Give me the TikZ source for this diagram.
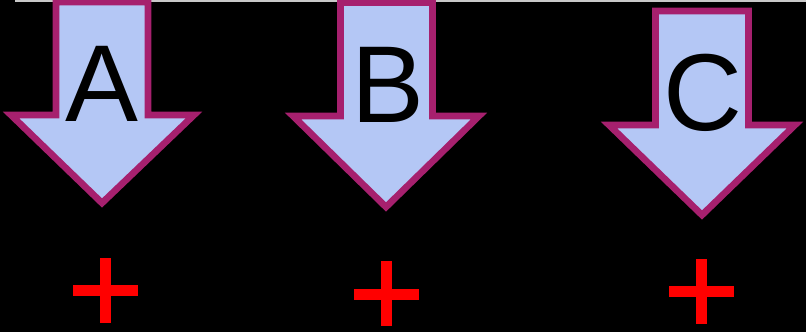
\documentclass[tikz,border=0pt]{standalone}
\usepackage{fontspec}
\setmainfont{Liberation Sans}
\definecolor{arrowfill}{RGB}{180,199,245}
\definecolor{arrowline}{RGB}{166,32,110}
\definecolor{topline}{RGB}{200,200,200}
\tikzset{
  bigarrow/.style={fill=arrowfill,draw=arrowline,line width=5,line join=miter},
  letter/.style={anchor=base,inner sep=0pt,font=\fontsize{82}{90}\selectfont,text=black},
  plusmark/.style={fill=red,draw=red!80!black,line width=0.6}
}
\newcommand{\plusat}[2]{%
  \fill[plusmark] (#1-32.5,#2-5.5) rectangle (#1+32.5,#2+5.5);
  \fill[plusmark] (#1-5.5,#2-32.5) rectangle (#1+5.5,#2+32.5);
}
\begin{document}
\begin{tikzpicture}[x=0.75pt,y=-0.75pt]
\fill[black] (0,0) rectangle (806,332);
\useasboundingbox (0,0) rectangle (806,332);
\draw[topline,line width=2] (15,1) -- (806,1);
% Arrow A
\draw[bigarrow] (56,2) -- (148,2) -- (148,115) -- (194,115) -- (102,203) -- (11,115) -- (56,115) -- cycle;
% Arrow B
\draw[bigarrow] (340.5,2.5) -- (432.5,2.5) -- (432.5,116) -- (479,116) -- (386,207) -- (293,116) -- (340.5,116) -- cycle;
% Arrow C
\draw[bigarrow] (655.5,11) -- (748.5,11) -- (748.5,125) -- (795,125) -- (702,215) -- (609,125) -- (655.5,125) -- cycle;
\node[letter] (a) at (102,121) {A};
\node[letter] (b) at (388,122) {B};
\node[letter] (c) at (702.5,130.5) {C};
% plus marks
\fill[red] (72.5,284.5) rectangle (137.5,295.5);
\fill[red] (99.5,257.5) rectangle (110.5,322.5);
\fill[red] (353.5,288.5) rectangle (418.5,299.5);
\fill[red] (380.5,261) rectangle (391.5,326);
\fill[red] (669,285.5) rectangle (734,296.5);
\fill[red] (696,258.5) rectangle (707,323.5);
\end{tikzpicture}
\end{document}
